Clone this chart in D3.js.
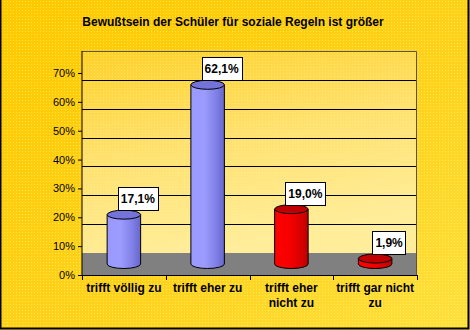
<!DOCTYPE html>
<html><head><meta charset="utf-8">
<script src="https://cdn.jsdelivr.net/npm/d3@7"></script>
<style>html,body{margin:0;padding:0;background:#fff}svg{display:block}</style>
</head><body>
<script>
const title = "Bewußtsein der Schüler für soziale Regeln ist größer";
const categories = ["trifft völlig zu", "trifft eher zu", "trifft eher nicht zu", "trifft gar nicht zu"];
const categoryLines = [["trifft völlig zu"], ["trifft eher zu"], ["trifft eher", "nicht zu"], ["trifft gar nicht", "zu"]];
const values = [17.1, 62.1, 19.0, 1.9];
const valueLabels = ["17,1%", "62,1%", "19,0%", "1,9%"];
const colorGroup = ["blue", "blue", "red", "red"];
const yTicks = [0, 10, 20, 30, 40, 50, 60, 70];

const W = 470, H = 330;
const svg = d3.select("body").append("svg").attr("width", W).attr("height", H);
const defs = svg.append("defs");

// background gradient
const bg = defs.append("linearGradient").attr("id","bg").attr("x1","0").attr("y1","0").attr("x2","1").attr("y2","1");
bg.append("stop").attr("offset","0").attr("stop-color","#FFC800");
bg.append("stop").attr("offset","0.6").attr("stop-color","#FFD21E");
bg.append("stop").attr("offset","1").attr("stop-color","#FFE040");
const dots = defs.append("pattern").attr("id","dots").attr("width",3).attr("height",3).attr("patternUnits","userSpaceOnUse");
dots.append("rect").attr("x",1).attr("y",1).attr("width",1).attr("height",1).attr("fill","#FFFF66");
const wall = defs.append("linearGradient").attr("id","wall").attr("x1","0").attr("y1","0").attr("x2","0.3").attr("y2","1");
wall.append("stop").attr("offset","0").attr("stop-color","#FFD02A");
wall.append("stop").attr("offset","0.5").attr("stop-color","#FFE070");
wall.append("stop").attr("offset","1").attr("stop-color","#FFEC9C");

const cylBlue = defs.append("linearGradient").attr("id","cylBlue").attr("x1","0").attr("x2","1").attr("y1","0").attr("y2","0");
cylBlue.append("stop").attr("offset","0").attr("stop-color","#9999FF");
cylBlue.append("stop").attr("offset","0.4").attr("stop-color","#9C9CFF");
cylBlue.append("stop").attr("offset","0.75").attr("stop-color","#8080E6");
cylBlue.append("stop").attr("offset","1").attr("stop-color","#6666CC");
const cylRed = defs.append("linearGradient").attr("id","cylRed").attr("x1","0").attr("x2","1").attr("y1","0").attr("y2","0");
cylRed.append("stop").attr("offset","0").attr("stop-color","#FF0000");
cylRed.append("stop").attr("offset","0.4").attr("stop-color","#F80000");
cylRed.append("stop").attr("offset","0.75").attr("stop-color","#DD0000");
cylRed.append("stop").attr("offset","1").attr("stop-color","#BB0000");
const fills = {blue:"url(#cylBlue)", red:"url(#cylRed)"};
const topFills = {blue:"#7373D9", red:"#C00000"};

svg.append("rect").attr("width",W).attr("height",H).attr("fill","url(#bg)");
svg.append("rect").attr("width",W).attr("height",H).attr("fill","url(#dots)").attr("opacity",0.55);
// outer border
svg.append("path").attr("d",`M0.5,0 V${H-1.5} H${W-1.5} V0`).attr("fill","none").attr("stroke","#000").attr("stroke-width",2);

// title
svg.append("text").attr("x",233).attr("y",26).attr("text-anchor","middle")
  .attr("font-family","Liberation Sans, Arial, sans-serif").attr("font-weight","bold").attr("font-size",12)
  .text(title);

// scales
const x = d3.scaleBand().domain(categories).range([82, 417]).padding(0);
const y = d3.scaleLinear().domain([0, 70]).range([275, 73]);
const depth = 22;
const left = 82, right = 417;

// plot wall
svg.append("rect").attr("x",left).attr("y",y(70)-depth).attr("width",right-left).attr("height",y(0)-depth-(y(70)-depth))
  .attr("fill","url(#wall)");
svg.append("rect").attr("x",left).attr("y",y(70)-depth).attr("width",right-left).attr("height",y(0)-depth-(y(70)-depth))
  .attr("fill","url(#dots)").attr("opacity",0.45);
// floor
svg.append("rect").attr("x",left).attr("y",y(0)-depth).attr("width",right-left).attr("height",depth).attr("fill","#808080");
// gridlines on back wall
svg.append("g").selectAll("line").data(yTicks.slice(1,-1).concat([])).join("line")
  .attr("x1",left).attr("x2",right).attr("y1",d=>Math.round(y(d)-depth)+0.5).attr("y2",d=>Math.round(y(d)-depth)+0.5)
  .attr("stroke","#000").attr("stroke-width",1);
// wall border top/right
svg.append("path").attr("d",`M${left},${y(70)-depth+0.5} H${right-0.5} V${y(0)}`).attr("fill","none").attr("stroke","#555").attr("stroke-width",1);

// cylinders
const bw = x.bandwidth()*0.4;
const ry = 4.5;
const g = svg.append("g");
values.forEach((v,i)=>{
  const cx = x(categories[i]) + x.bandwidth()/2;
  const rx = bw/2;
  const yb = y(0) - depth/2;
  const yt = y(v) - depth/2;
  const grp = g.append("g").attr("stroke","#000").attr("stroke-width",1);
  grp.append("path")
    .attr("d",`M${cx-rx},${yt} V${yb} A${rx},${ry} 0 0 0 ${cx+rx},${yb} V${yt} Z`)
    .attr("fill",fills[colorGroup[i]]);
  grp.append("ellipse").attr("cx",cx).attr("cy",yt).attr("rx",rx).attr("ry",ry).attr("fill",topFills[colorGroup[i]]);
});

// axes
const yAxis = d3.axisLeft(y).tickValues(yTicks).tickFormat(d=>d+"%").tickSize(4).tickPadding(3);
const ya = svg.append("g").attr("transform",`translate(${left},0)`).call(yAxis);
ya.select(".domain").attr("d",`M0,${y(70)-depth} V${y(0)}`).attr("stroke","#000");
ya.selectAll("text").attr("font-family","Liberation Sans, Arial, sans-serif").attr("font-size",11).attr("fill","#000");
ya.selectAll(".tick line").attr("stroke","#000");

const xa = svg.append("g");
xa.append("line").attr("x1",left).attr("x2",right).attr("y1",y(0)+0.5).attr("y2",y(0)+0.5).attr("stroke","#000");
xa.selectAll("line.t").data(d3.range(categories.length+1)).join("line").attr("class","t")
  .attr("x1",i=>Math.round(left + i*x.bandwidth())+0.5).attr("x2",i=>Math.round(left + i*x.bandwidth())+0.5)
  .attr("y1",y(0)).attr("y2",y(0)+5).attr("stroke","#000");
categories.forEach((c,i)=>{
  const t = xa.append("text").attr("x",x(c)+x.bandwidth()/2).attr("y",292).attr("text-anchor","middle")
    .attr("font-family","Liberation Sans, Arial, sans-serif").attr("font-weight","bold").attr("font-size",12);
  categoryLines[i].forEach((ln,j)=>t.append("tspan").attr("x",x(c)+x.bandwidth()/2).attr("dy",j?15:0).text(ln));
});

// value labels
values.forEach((v,i)=>{
  const cx = x(categories[i]) + x.bandwidth()/2;
  const yt = y(v) - depth/2 - ry;
  const lg = svg.append("g");
  const t = lg.append("text").attr("font-family","Liberation Sans, Arial, sans-serif").attr("font-weight","bold")
    .attr("font-size",12).attr("text-anchor","middle").text(valueLabels[i]);
  const w = t.node().getComputedTextLength() + 6;
  const lcx = cx + 14;
  lg.insert("rect","text").attr("x",Math.round(lcx-w/2)+0.5).attr("y",Math.round(yt-23)+0.5).attr("width",Math.round(w)).attr("height",23)
    .attr("fill","#fff").attr("stroke","#000");
  t.attr("x",lcx).attr("y",yt-7);
});
</script>
</body></html>
